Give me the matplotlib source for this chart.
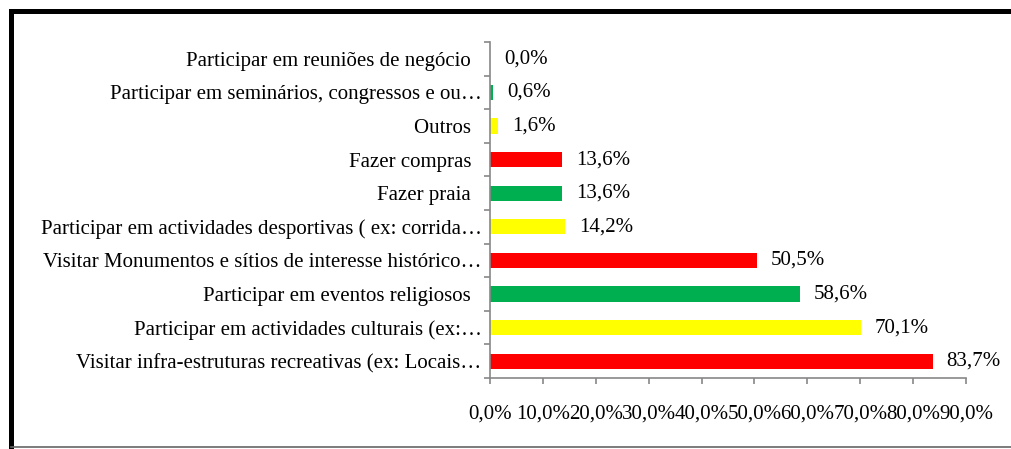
import numpy as np
import matplotlib.pyplot as plt
from matplotlib.lines import Line2D

# data, bottom to top
categories = [
    "Visitar infra-estruturas recreativas (ex: Locais…",
    "Participar em actividades culturais (ex:…",
    "Participar em eventos religiosos  ",
    "Visitar Monumentos e sítios de interesse histórico…",
    "Participar em actividades desportivas ( ex: corrida…",
    "Fazer praia  ",
    "Fazer compras  ",
    "Outros  ",
    "Participar em seminários, congressos e ou…",
    "Participar em reuniões de negócio  ",
]
values = [83.7, 70.1, 58.6, 50.5, 14.2, 13.6, 13.6, 1.6, 0.6, 0.0]
colors = ["#FF0000", "#FFFF00", "#00B050"] * 3 + ["#FF0000"]
xticks = [0, 10, 20, 30, 40, 50, 60, 70, 80, 90]

plt.rcParams["font.family"] = "Liberation Serif"
fs = 15

fig = plt.figure(figsize=(10.11, 4.49), dpi=100)
ax = fig.add_axes([0.4847, 0.158, 0.4708, 0.7485])

y = np.arange(len(categories))
ax.barh(y, values, height=0.45, color=colors)
for yi, v in zip(y, values):
    ax.annotate(f"{v:.1f}%".replace(".", ","), (v, yi), xytext=(10, 0),
                textcoords="offset points", va="center", ha="left", fontsize=fs)

ax.set_xlim(0, 90)
ax.set_ylim(-0.5, len(categories) - 0.5)
ax.set_xticks(xticks)
ax.set_xticklabels([f"{t:.1f}%".replace(".", ",") for t in xticks], fontsize=fs)
ax.set_yticks(y)
ax.set_yticklabels(categories, fontsize=fs)
ax.set_yticks(np.arange(-0.5, len(categories)), minor=True)

for s in ["top", "right"]:
    ax.spines[s].set_visible(False)
for s in ["left", "bottom"]:
    ax.spines[s].set_color("#888888")
    ax.spines[s].set_linewidth(1.2)

ax.tick_params(axis="y", which="major", length=0, pad=6)
ax.tick_params(axis="y", which="minor", length=4, color="#888888", width=1.2)
ax.tick_params(axis="x", length=4, color="#888888", width=1.2, pad=15)

# outer frame
fig.add_artist(Line2D([0.0105, 1.0], [0.9755, 0.9755], color="black", lw=3.6))
fig.add_artist(Line2D([0.0105, 0.0105], [0.0045, 0.9755], color="black", lw=3.6))
fig.add_artist(Line2D([0.0105, 1.0], [0.0045, 0.0045], color="#666666", lw=1.2))

fig.savefig("out.png", dpi=100)
